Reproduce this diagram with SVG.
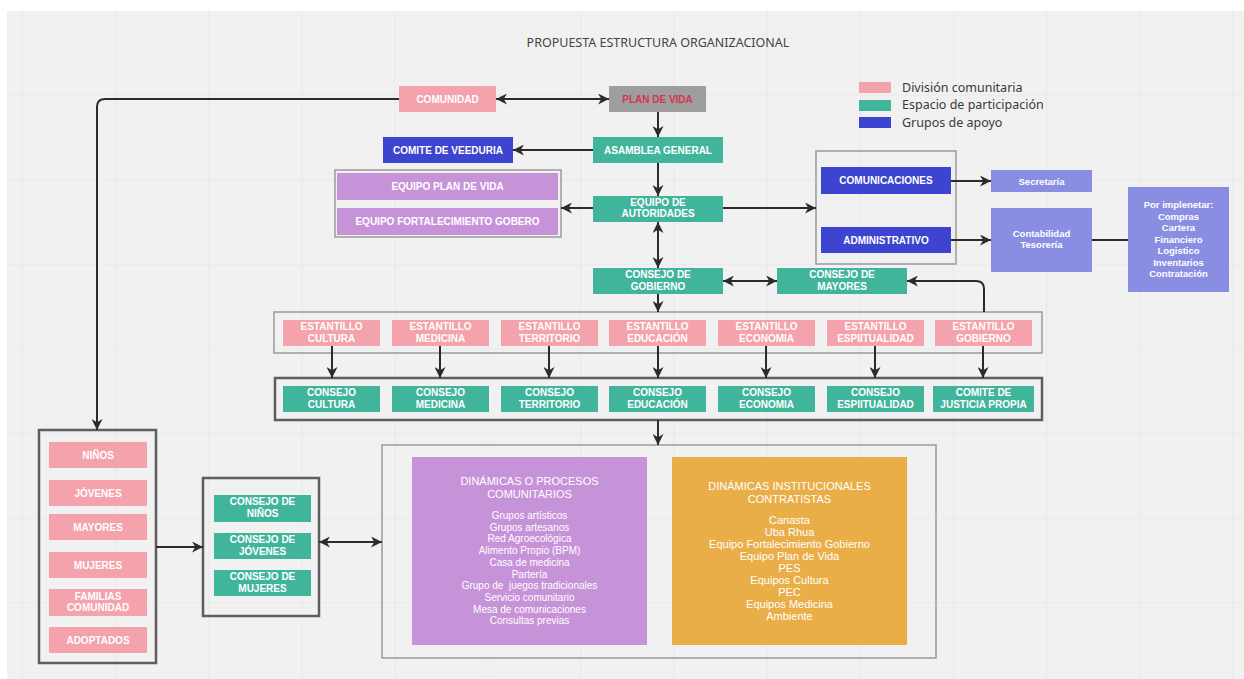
<svg xmlns="http://www.w3.org/2000/svg" width="1244" height="679" viewBox="0 0 1244 679">
<defs>
<marker id="ah" viewBox="0 0 10 10" refX="10" refY="5" markerWidth="11" markerHeight="11" markerUnits="userSpaceOnUse" orient="auto-start-reverse">
<path d="M0,0 L10,5 L0,10 L3,5 z" fill="#2b2b2b"/>
</marker>
<pattern id="grid" x="22" y="10" width="93.1" height="84.6" patternUnits="userSpaceOnUse">
<path d="M0,0 V84.6 M0,0 H93.1" fill="none" stroke="#e3e3e3" stroke-width="1.2"/>
</pattern>
</defs>
<style>
.pk{fill:#f4a2ab}
.tl{fill:#41b59b}
.bl{fill:#3d45d0}
.lb{fill:#8a8ee2}
.pu{fill:#c793d8}
.or{fill:#e9ae48}
.gr{fill:#9e9e9e}
.lbl{font-family:"Liberation Sans",Arial,sans-serif;font-size:10px;font-weight:bold;fill:#ffffff;text-anchor:middle}
.sm{font-family:"Liberation Sans",Arial,sans-serif;font-size:10px;fill:#ffffff;text-anchor:middle}
.smb{font-family:"Liberation Sans",Arial,sans-serif;font-size:9.5px;font-weight:bold;fill:#ffffff;text-anchor:middle}
.hd{font-size:11px}
.leg{font-family:"Noto Sans","Open Sans",sans-serif;font-size:12.5px;fill:#3a3a3a}
.frame{fill:none;stroke:#9a9a9a;stroke-width:1.5}
.frameD{fill:none;stroke:#5e5e5e;stroke-width:2.5}
.c{fill:none;stroke:#2b2b2b;stroke-width:2}
</style>
<rect x="0" y="0" width="1244" height="679" fill="#ffffff"/>
<rect x="7" y="11" width="1237" height="668" fill="#f1f1f1"/>
<rect x="7" y="11" width="1237" height="668" fill="url(#grid)"/>

<text x="658" y="47" font-family="Noto Sans, Open Sans, sans-serif" font-size="12.5" fill="#444" text-anchor="middle">PROPUESTA ESTRUCTURA ORGANIZACIONAL</text>

<g id="legend">
<rect x="859" y="82" width="32" height="11" class="pk"/>
<text x="902" y="92" class="leg">División comunitaria</text>
<rect x="859" y="100" width="32" height="11" class="tl"/>
<text x="902" y="109" class="leg">Espacio de participación</text>
<rect x="859" y="117" width="32" height="11" class="bl"/>
<text x="902" y="127" class="leg">Grupos de apoyo</text>
</g>

<g id="frames">
<rect x="335" y="170" width="226" height="67" class="frame"/>
<rect x="816" y="151" width="140" height="113" class="frame"/>
<rect x="274" y="312" width="768" height="41" class="frame"/>
<rect x="275" y="378" width="767" height="42" class="frameD"/>
<rect x="39" y="430" width="117" height="233" class="frameD"/>
<rect x="203" y="478" width="116" height="138" class="frameD"/>
<rect x="382" y="445" width="554" height="213" class="frame"/>
</g>

<g id="connectors">
<line x1="496" y1="99" x2="609" y2="99" class="c" marker-start="url(#ah)" marker-end="url(#ah)"/>
<line x1="658" y1="112" x2="658" y2="137" class="c" marker-end="url(#ah)"/>
<line x1="593" y1="150" x2="513" y2="150" class="c" marker-end="url(#ah)"/>
<line x1="658" y1="163" x2="658" y2="196" class="c" marker-end="url(#ah)"/>
<line x1="593" y1="208" x2="561" y2="208" class="c" marker-end="url(#ah)"/>
<line x1="723" y1="208" x2="816" y2="208" class="c" marker-end="url(#ah)"/>
<line x1="658" y1="222" x2="658" y2="268" class="c" marker-start="url(#ah)" marker-end="url(#ah)"/>
<line x1="723" y1="281" x2="777" y2="281" class="c" marker-start="url(#ah)" marker-end="url(#ah)"/>
<path d="M984,312 V289 Q984,281 976,281 H907" class="c" marker-end="url(#ah)"/>
<line x1="658" y1="294" x2="658" y2="312" class="c" marker-end="url(#ah)"/>
<line x1="332" y1="346" x2="332" y2="378" class="c" marker-end="url(#ah)"/>
<line x1="440" y1="346" x2="440" y2="378" class="c" marker-end="url(#ah)"/>
<line x1="549" y1="346" x2="549" y2="378" class="c" marker-end="url(#ah)"/>
<line x1="658" y1="346" x2="658" y2="378" class="c" marker-end="url(#ah)"/>
<line x1="766" y1="346" x2="766" y2="378" class="c" marker-end="url(#ah)"/>
<line x1="875" y1="346" x2="875" y2="378" class="c" marker-end="url(#ah)"/>
<line x1="983" y1="346" x2="983" y2="378" class="c" marker-end="url(#ah)"/>
<line x1="658" y1="420" x2="658" y2="445" class="c" marker-end="url(#ah)"/>
<path d="M399,99 H105 Q97,99 97,107 V430" class="c" marker-end="url(#ah)"/>
<line x1="156" y1="547" x2="203" y2="547" class="c" marker-end="url(#ah)"/>
<line x1="319" y1="542" x2="382" y2="542" class="c" marker-start="url(#ah)" marker-end="url(#ah)"/>
<line x1="951" y1="181" x2="991" y2="181" class="c" marker-end="url(#ah)"/>
<line x1="951" y1="240" x2="991" y2="240" class="c" marker-end="url(#ah)"/>
<line x1="1092" y1="240" x2="1128" y2="240" class="c"/>
</g>

<g id="comunidad"><rect x="399" y="86" width="97" height="26" class="pk"/><text x="447.5" y="103" class="lbl">COMUNIDAD</text></g>
<g id="plan-de-vida"><rect x="609" y="86" width="97" height="26" class="gr"/><text x="657.5" y="103" class="lbl" style="fill:#d8344c">PLAN DE VIDA</text></g>
<g id="asamblea"><rect x="593" y="137" width="130" height="26" class="tl"/><text x="658" y="154" class="lbl">ASAMBLEA GENERAL</text></g>
<g id="veeduria"><rect x="383" y="137" width="130" height="26" class="bl"/><text x="448" y="154" class="lbl">COMITE DE VEEDURIA</text></g>
<g id="equipo-plan"><rect x="337" y="173" width="221" height="27" class="pu"/><text x="447.5" y="190" class="lbl">EQUIPO PLAN DE VIDA</text></g>
<g id="equipo-fort"><rect x="337" y="208" width="221" height="27" class="pu"/><text x="447.5" y="225" class="lbl">EQUIPO FORTALECIMIENTO GOBERO</text></g>
<g id="equipo-autoridades"><rect x="593" y="196" width="130" height="26" class="tl"/><text x="658" y="206" class="lbl">EQUIPO DE<tspan x="658" dy="11">AUTORIDADES</tspan></text></g>
<g id="comunicaciones"><rect x="821" y="167" width="130" height="27" class="bl"/><text x="886" y="184" class="lbl">COMUNICACIONES</text></g>
<g id="administrativo"><rect x="821" y="227" width="130" height="26" class="bl"/><text x="886" y="244" class="lbl">ADMINISTRATIVO</text></g>
<g id="secretaria"><rect x="991" y="170" width="101" height="22" class="lb"/><text x="1041.5" y="184.5" class="smb">Secretaría</text></g>
<g id="contabilidad"><rect x="991" y="208" width="101" height="64" class="lb"/><text x="1041.5" y="237" class="smb">Contabilidad<tspan x="1041.5" dy="11">Tesorería</tspan></text></g>
<g id="por-implementar"><rect x="1128" y="187" width="101" height="105" class="lb"/><text x="1178.5" y="208" class="smb">Por implenetar:<tspan x="1178.5" dy="11.5">Compras</tspan><tspan x="1178.5" dy="11.5">Cartera</tspan><tspan x="1178.5" dy="11.5">Financiero</tspan><tspan x="1178.5" dy="11.5">Logistico</tspan><tspan x="1178.5" dy="11.5">Inventarios</tspan><tspan x="1178.5" dy="11.5">Contratación</tspan></text></g>
<g id="consejo-gobierno"><rect x="593" y="268" width="130" height="26" class="tl"/><text x="658" y="278" class="lbl">CONSEJO DE<tspan x="658" dy="11.5">GOBIERNO</tspan></text></g>
<g id="consejo-mayores"><rect x="777" y="268" width="130" height="26" class="tl"/><text x="842" y="278" class="lbl">CONSEJO DE<tspan x="842" dy="11.5">MAYORES</tspan></text></g>

<g id="est-cultura"><rect x="283" y="320" width="97" height="26" class="pk"/><text x="331.5" y="330" class="lbl">ESTANTILLO<tspan x="331.5" dy="12">CULTURA</tspan></text></g>
<g id="est-medicina"><rect x="392" y="320" width="97" height="26" class="pk"/><text x="440.5" y="330" class="lbl">ESTANTILLO<tspan x="440.5" dy="12">MEDICINA</tspan></text></g>
<g id="est-territorio"><rect x="501" y="320" width="97" height="26" class="pk"/><text x="549.5" y="330" class="lbl">ESTANTILLO<tspan x="549.5" dy="12">TERRITORIO</tspan></text></g>
<g id="est-educacion"><rect x="609" y="320" width="97" height="26" class="pk"/><text x="657.5" y="330" class="lbl">ESTANTILLO<tspan x="657.5" dy="12">EDUCACIÓN</tspan></text></g>
<g id="est-economia"><rect x="718" y="320" width="97" height="26" class="pk"/><text x="766.5" y="330" class="lbl">ESTANTILLO<tspan x="766.5" dy="12">ECONOMIA</tspan></text></g>
<g id="est-espiritualidad"><rect x="827" y="320" width="97" height="26" class="pk"/><text x="875.5" y="330" class="lbl">ESTANTILLO<tspan x="875.5" dy="12">ESPIITUALIDAD</tspan></text></g>
<g id="est-gobierno"><rect x="935" y="320" width="97" height="26" class="pk"/><text x="983.5" y="330" class="lbl">ESTANTILLO<tspan x="983.5" dy="12">GOBIERNO</tspan></text></g>

<g id="con-cultura"><rect x="283" y="386" width="97" height="26" class="tl"/><text x="331.5" y="396" class="lbl">CONSEJO<tspan x="331.5" dy="12">CULTURA</tspan></text></g>
<g id="con-medicina"><rect x="392" y="386" width="97" height="26" class="tl"/><text x="440.5" y="396" class="lbl">CONSEJO<tspan x="440.5" dy="12">MEDICINA</tspan></text></g>
<g id="con-territorio"><rect x="501" y="386" width="97" height="26" class="tl"/><text x="549.5" y="396" class="lbl">CONSEJO<tspan x="549.5" dy="12">TERRITORIO</tspan></text></g>
<g id="con-educacion"><rect x="609" y="386" width="97" height="26" class="tl"/><text x="657.5" y="396" class="lbl">CONSEJO<tspan x="657.5" dy="12">EDUCACIÓN</tspan></text></g>
<g id="con-economia"><rect x="718" y="386" width="97" height="26" class="tl"/><text x="766.5" y="396" class="lbl">CONSEJO<tspan x="766.5" dy="12">ECONOMIA</tspan></text></g>
<g id="con-espiritualidad"><rect x="827" y="386" width="97" height="26" class="tl"/><text x="875.5" y="396" class="lbl">CONSEJO<tspan x="875.5" dy="12">ESPIITUALIDAD</tspan></text></g>
<g id="comite-justicia"><rect x="933" y="386" width="101" height="26" class="tl"/><text x="983.5" y="396" class="lbl">COMITE DE<tspan x="983.5" dy="12">JUSTICIA PROPIA</tspan></text></g>

<g id="ninos"><rect x="49" y="442" width="98" height="26" class="pk"/><text x="98" y="459" class="lbl">NIÑOS</text></g>
<g id="jovenes"><rect x="49" y="480" width="98" height="26" class="pk"/><text x="98" y="497" class="lbl">JÓVENES</text></g>
<g id="mayores"><rect x="49" y="514" width="98" height="26" class="pk"/><text x="98" y="531" class="lbl">MAYORES</text></g>
<g id="mujeres"><rect x="49" y="552" width="98" height="26" class="pk"/><text x="98" y="569" class="lbl">MUJERES</text></g>
<g id="familias"><rect x="49" y="589" width="98" height="27" class="pk"/><text x="98" y="600" class="lbl">FAMILIAS<tspan x="98" dy="11">COMUNIDAD</tspan></text></g>
<g id="adoptados"><rect x="49" y="627" width="98" height="26" class="pk"/><text x="98" y="644" class="lbl">ADOPTADOS</text></g>

<g id="consejo-ninos"><rect x="214" y="495" width="97" height="27" class="tl"/><text x="262.5" y="505" class="lbl">CONSEJO DE<tspan x="262.5" dy="12">NIÑOS</tspan></text></g>
<g id="consejo-jovenes"><rect x="214" y="533" width="97" height="26" class="tl"/><text x="262.5" y="543" class="lbl">CONSEJO DE<tspan x="262.5" dy="12">JÓVENES</tspan></text></g>
<g id="consejo-mujeres"><rect x="214" y="570" width="97" height="26" class="tl"/><text x="262.5" y="580" class="lbl">CONSEJO DE<tspan x="262.5" dy="12">MUJERES</tspan></text></g>

<g id="dinamicas-comunitarias"><rect x="412" y="457" width="235" height="188" class="pu"/>
<text x="529.5" y="485" class="sm hd">DINÁMICAS O PROCESOS<tspan x="529.5" dy="12.5">COMUNITARIOS</tspan></text>
<text x="529.5" y="519" class="sm">Grupos artísticos<tspan x="529.5" dy="11.7">Grupos artesanos</tspan><tspan x="529.5" dy="11.7">Red Agroecológica</tspan><tspan x="529.5" dy="11.7">Alimento Propio (BPM)</tspan><tspan x="529.5" dy="11.7">Casa de medicina</tspan><tspan x="529.5" dy="11.7">Partería</tspan><tspan x="529.5" dy="11.7">Grupo de&#160; juegos tradicionales</tspan><tspan x="529.5" dy="11.7">Servicio comunitario</tspan><tspan x="529.5" dy="11.7">Mesa de comunicaciones</tspan><tspan x="529.5" dy="11.7">Consultas previas</tspan></text>
</g>
<g id="dinamicas-institucionales"><rect x="672" y="457" width="235" height="188" class="or"/>
<text x="789.5" y="490" class="sm hd">DINÁMICAS INSTITUCIONALES<tspan x="789.5" dy="12.5">CONTRATISTAS</tspan></text>
<text x="789.5" y="524" class="sm hd">Canasta<tspan x="789.5" dy="12">Uba Rhua</tspan><tspan x="789.5" dy="12">Equipo Fortalecimiento Gobierno</tspan><tspan x="789.5" dy="12">Equipo Plan de Vida</tspan><tspan x="789.5" dy="12">PES</tspan><tspan x="789.5" dy="12">Equipos Cultura</tspan><tspan x="789.5" dy="12">PEC</tspan><tspan x="789.5" dy="12">Equipos Medicina</tspan><tspan x="789.5" dy="12">Ambiente</tspan></text>
</g>
</svg>
